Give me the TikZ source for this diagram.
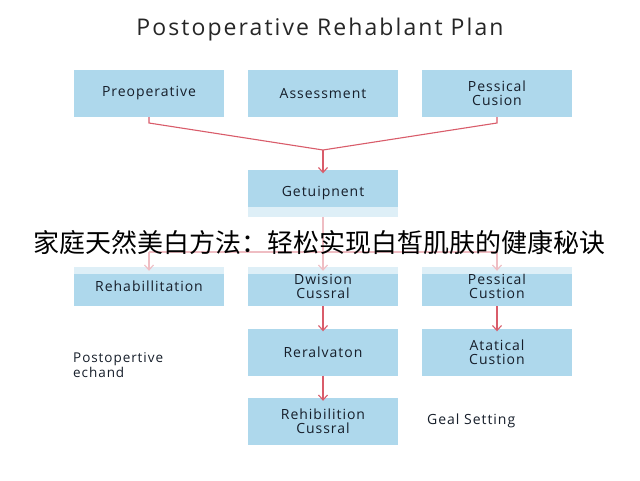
\documentclass[tikz,border=0pt]{standalone}
\usepackage{fontspec}
\setmainfont{Open Sans}[LetterSpace=7]
\newfontfamily\titlefont{Open Sans}[LetterSpace=9]
\newfontfamily\cjk{Noto Sans CJK SC}
\usetikzlibrary{arrows.meta}
\definecolor{boxblue}{RGB}{174,216,236}
\definecolor{linkred}{RGB}{217,92,106}
\definecolor{txt}{RGB}{22,30,42}
\tikzset{
  box/.style={fill=boxblue, draw=none, minimum width=150pt, minimum height=47pt, inner sep=0pt, align=center, text=txt, font=\fontsize{14}{14}\selectfont},
  lowbox/.style={box, minimum height=39pt},
  link/.style={draw=linkred, line width=1.1pt},
  arr/.style={link, -{Straight Barb[length=5pt,width=9pt]}},
  free/.style={text=txt, align=left, anchor=west, inner sep=0pt, font=\fontsize{14}{15}\selectfont}
}
\begin{document}
\begin{tikzpicture}[x=1pt,y=-1pt]
\useasboundingbox (0,0) rectangle (640,480);
\fill[white] (0,0) rectangle (640,480);
\node[text=black!85, font=\titlefont\fontsize{23}{26}\selectfont] (title) at (320,30) {Postoperative Rehablant Plan};
% row 1
\node[box] (pre) at (149,93.5) {Preoperative};
\node[box] (ass) at (323,93.5) {Assessment};
\node[box] (pes1) at (497,93.5) {Pessical\\Cusion};
% row 2
\node[box] (get) at (323,193) {Getuipnent};
% row 3
\node[lowbox] (reh) at (149,286.5) {Rehabillitation};
\node[lowbox] (dwi) at (323,286.5) {Dwision\\Cussral};
\node[lowbox] (pes2) at (497,286.5) {Pessical\\Custion};
% row 4
\node[box] (rer) at (323,352) {Reralvaton};
\node[box] (ata) at (497,352) {Atatical\\Custion};
% row 5
\node[box] (rhb) at (323,421.5) {Rehibilition\\Cussral};
% free texts
\node[free, font=\fontsize{13.5}{15}\selectfont] (post) at (73,365) {Postopertive\\echand};
\node[free] (goal) at (427,421) {Geal Setting};
% coordinates
\coordinate (m) at (323,150);
\coordinate (pl) at (149,123);
\coordinate (pr) at (497,123);
\coordinate (s) at (323,252);
\coordinate (sl) at (149,252);
\coordinate (sr) at (497,252);
% connectors
\draw[link] (pre.south) -- (pl) -- (m);
\draw[link] (pes1.south) -- (pr) -- (m);
\draw[arr] (m) -- ([yshift=-4pt]get.north);
\draw[link] (get.south) -- (s);
\draw[link] (sl) -- (sr);
\draw[arr] (sl) -- ([yshift=-4pt]reh.north);
\draw[arr] (s) -- ([yshift=-4pt]dwi.north);
\draw[arr] (sr) -- ([yshift=-4pt]pes2.north);
\draw[arr] (dwi.south) -- ([yshift=-3pt]rer.north);
\draw[arr] (pes2.south) -- ([yshift=-3pt]ata.north);
\draw[arr] (rer.south) -- ([yshift=-3pt]rhb.north);
% wash band
\fill[white, opacity=0.6] (0,207) rectangle (640,274);
\node[text=black, font=\cjk\fontsize{26}{28}\selectfont] (cn) at (320,243) {家庭天然美白方法：轻松实现白皙肌肤的健康秘诀};
\end{tikzpicture}
\end{document}
